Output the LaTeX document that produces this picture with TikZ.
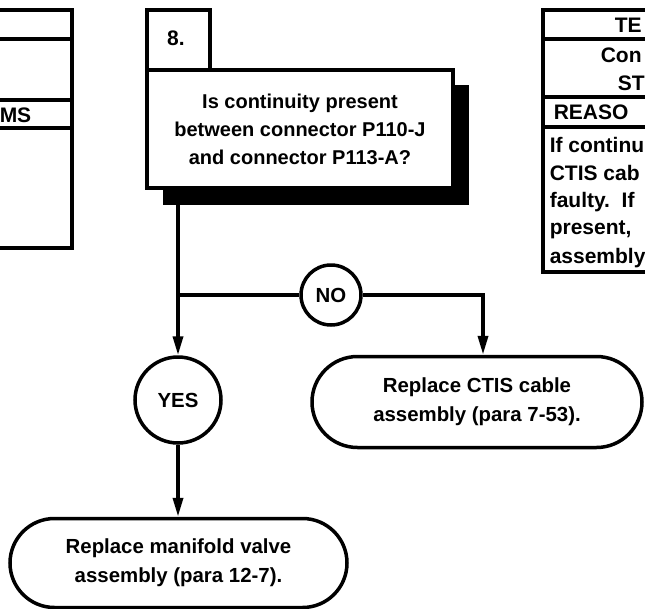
\documentclass[tikz,border=0pt]{standalone}
\usepackage{fontspec}
\setmainfont{Liberation Sans}
\usetikzlibrary{arrows.meta,shapes.misc}
\begin{document}
\begin{tikzpicture}[x=1pt,y=-1pt,line width=3.5pt,
  txt/.style={font=\bfseries\fontsize{20.4}{29}\selectfont,align=center,inner sep=0pt},
  tabtxt/.style={font=\bfseries\fontsize{21}{28}\selectfont,inner sep=0pt,anchor=west},
  boxnode/.style={draw,fill=white,rectangle,inner sep=0pt,txt},
  endbox/.style={draw,fill=white,rounded rectangle,inner sep=0pt,txt},
  circ/.style={draw,fill=white,circle,inner sep=0pt,txt},
  arr/.style={-{Triangle[length=19pt,width=10pt]}}]
\clip (0,0) rectangle (645,608);
% left table (cut off at the edge)
\draw (-20,10) rectangle (72,248);
\draw (-20,39) -- (72,39);
\draw (-20,100) -- (72,100);
\draw (-20,128) -- (72,128);
\node[tabtxt,anchor=east] (lefthead) at (33,115) {MS};
% right table (cut off at the edge)
\draw (543,10) rectangle (700,272);
\draw (543,39) -- (700,39);
\draw (543,97) -- (700,97);
\draw (543,127) -- (700,127);
\node[tabtxt] (r1) at (613,25) {TE};
\node[tabtxt] (r2) at (599,55) {Con};
\node[tabtxt] (r3) at (616,83) {ST};
\node[tabtxt] (r4) at (552,112) {REASO};
\node[tabtxt] (r5) at (548,145) {If continu};
\node[tabtxt] (r6) at (548,173) {CTIS cab};
\node[tabtxt] (r7) at (548,202) {faulty.\ \ If};
\node[tabtxt] (r8) at (548,230) {present,};
\node[tabtxt] (r9) at (548,258) {assembly};
% step 8
\fill (163,85) rectangle (469,205);
\node[boxnode,minimum width=63pt,minimum height=60pt] (num) at (178.5,40) {};
\node[font=\bfseries\fontsize{21}{24}\selectfont,inner sep=0pt] (numtxt) at (176,38) {8.};
\node[boxnode,minimum width=306pt,minimum height=118pt,font=\bfseries\fontsize{20}{28}\selectfont] (main) at (300,129)
  {Is continuity present\\between connector P110-J\\and connector P113-A?};
% decisions
\node[circ,minimum size=60pt] (no) at (331,295) {NO};
\node[circ,minimum size=86pt] (yes) at (178,400) {YES};
\node[endbox,minimum width=330pt,minimum height=91pt] (ctis) at (477,402)
  {Replace CTIS cable\\assembly (para 7-53).};
\node[endbox,minimum width=337pt,minimum height=89pt] (man) at (178.5,563)
  {Replace manifold valve\\assembly (para 12-7).};
% connectors
\coordinate (j) at (178,295);
\coordinate (k) at (483,295);
\draw (main.south -| j) -- (j);
\draw[arr] (j) -- (yes.north);
\draw (j) -- (no.west);
\draw[arr] (no.east) -- (k) -- (k |- ctis.north);
\draw[arr] (yes.south) -- (yes.south |- man.north);
\end{tikzpicture}
\end{document}
